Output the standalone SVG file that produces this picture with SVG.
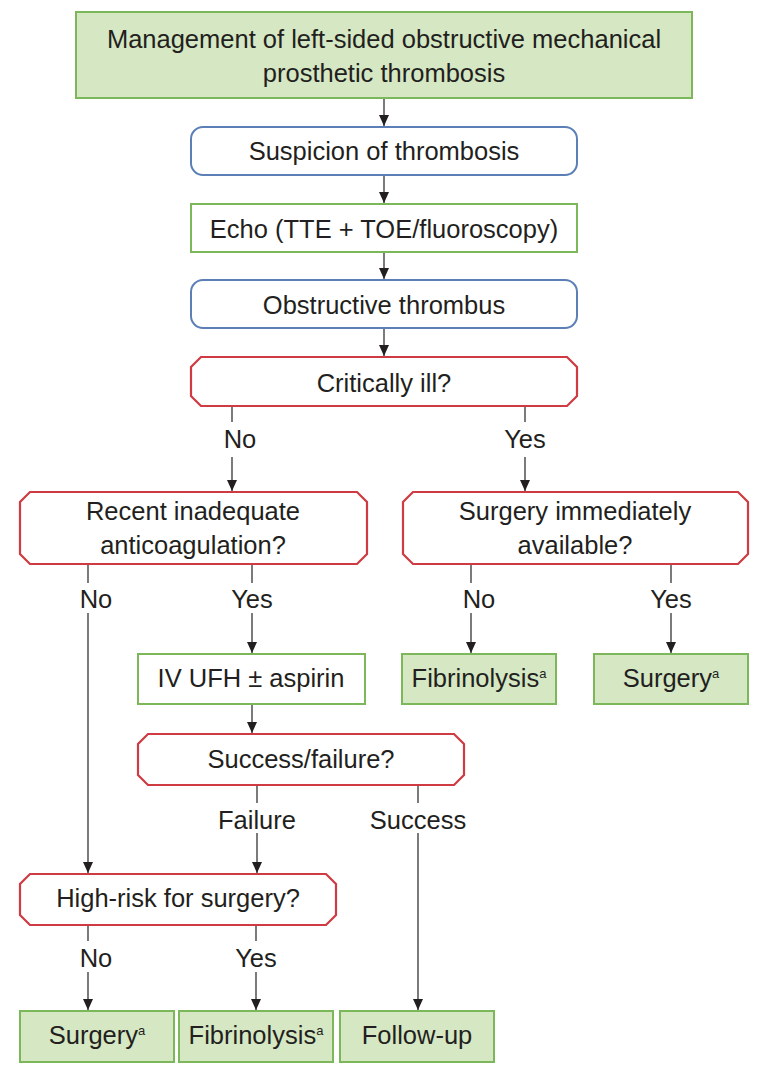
<svg xmlns="http://www.w3.org/2000/svg" width="768" height="1075" viewBox="0 0 768 1075">
<defs>
<marker id="ah" markerWidth="11" markerHeight="10" refX="11" refY="5" orient="auto" markerUnits="userSpaceOnUse" viewBox="0 0 11 10">
<path d="M0,0 L11,5 L0,10 Z" fill="#231f20"/>
</marker>
<style>
text{font-family:"Liberation Sans",Arial,sans-serif;font-size:25.5px;fill:#231f20;text-anchor:middle}
.sup{font-size:13px}
.gf{fill:#d5e7c3;stroke:#7cb85a;stroke-width:2}
.gw{fill:#ffffff;stroke:#7cb85a;stroke-width:2}
.bl{fill:#ffffff;stroke:#5b7fb6;stroke-width:2}
.rd{fill:#ffffff;stroke:#cf3a43;stroke-width:2.2}
.ln{stroke:#333;stroke-width:1.3;fill:none}
.ar{stroke:#333;stroke-width:1.3;fill:none;marker-end:url(#ah)}
</style>
</defs>
<rect width="768" height="1075" fill="#ffffff"/>

<g id="connectors">
<line class="ar" x1="384" y1="98" x2="384" y2="126"/>
<line class="ar" x1="384" y1="175" x2="384" y2="203"/>
<line class="ar" x1="384" y1="252" x2="384" y2="279"/>
<line class="ar" x1="384" y1="328" x2="384" y2="356"/>
<line class="ln" x1="232" y1="406" x2="232" y2="422"/>
<line class="ar" x1="232" y1="457" x2="232" y2="491"/>
<line class="ln" x1="525" y1="406" x2="525" y2="422"/>
<line class="ar" x1="525" y1="457" x2="525" y2="491"/>
<line class="ln" x1="88" y1="564" x2="88" y2="583"/>
<line class="ar" x1="88" y1="613" x2="88" y2="873"/>
<line class="ln" x1="252" y1="564" x2="252" y2="583"/>
<line class="ar" x1="252" y1="613" x2="252" y2="653"/>
<line class="ln" x1="471" y1="564" x2="471" y2="583"/>
<line class="ar" x1="471" y1="613" x2="471" y2="653"/>
<line class="ln" x1="671" y1="564" x2="671" y2="583"/>
<line class="ar" x1="671" y1="613" x2="671" y2="653"/>
<line class="ar" x1="252" y1="704" x2="252" y2="733"/>
<line class="ln" x1="257" y1="785" x2="257" y2="803"/>
<line class="ar" x1="257" y1="833" x2="257" y2="873"/>
<line class="ln" x1="418" y1="785" x2="418" y2="803"/>
<line class="ar" x1="418" y1="833" x2="418" y2="1010"/>
<line class="ln" x1="88" y1="925" x2="88" y2="941"/>
<line class="ar" x1="88" y1="972" x2="88" y2="1010"/>
<line class="ln" x1="256" y1="925" x2="256" y2="941"/>
<line class="ar" x1="256" y1="972" x2="256" y2="1010"/>
<text x="240" y="448">No</text>
<text x="525" y="448">Yes</text>
<text x="96" y="608">No</text>
<text x="252" y="608">Yes</text>
<text x="479" y="608">No</text>
<text x="671" y="608">Yes</text>
<text x="257" y="829">Failure</text>
<text x="418" y="829">Success</text>
<text x="96" y="967">No</text>
<text x="256" y="967">Yes</text>
</g>

<g id="title">
<rect class="gf" x="76" y="12" width="616" height="86"/>
<text x="384" y="48">Management of left-sided obstructive mechanical</text>
<text x="384" y="82">prosthetic thrombosis</text>
</g>

<g id="suspicion">
<rect class="bl" x="191" y="127" width="386" height="48" rx="12"/>
<text x="384" y="160">Suspicion of thrombosis</text>
</g>

<g id="echo">
<rect class="gw" x="191" y="204" width="386" height="48"/>
<text x="384" y="238">Echo (TTE + TOE/fluoroscopy)</text>
</g>

<g id="obstructive">
<rect class="bl" x="191" y="280" width="386" height="48" rx="12"/>
<text x="384" y="314">Obstructive thrombus</text>
</g>

<g id="critically">
<path class="rd" d="M201,357 H567 L577,367 V396 L567,406 H201 L191,396 V367 Z"/>
<text x="384" y="392">Critically ill?</text>
</g>

<g id="recent">
<path class="rd" d="M30,492 H357 L367,502 V554 L357,564 H30 L20,554 V502 Z"/>
<text x="193" y="520">Recent inadequate</text>
<text x="193" y="554">anticoagulation?</text>
</g>

<g id="surgery-available">
<path class="rd" d="M413,492 H738 L748,502 V554 L738,564 H413 L403,554 V502 Z"/>
<text x="575" y="520">Surgery immediately</text>
<text x="575" y="554">available?</text>
</g>

<g id="ivufh">
<rect class="gw" x="138" y="654" width="227" height="50"/>
<text x="251" y="687">IV UFH ± aspirin</text>
</g>

<g id="fibrinolysis-right">
<rect class="gf" x="402" y="654" width="154" height="50"/>
<text x="479" y="687">Fibrinolysis<tspan class="sup" dy="-9">a</tspan></text>
</g>

<g id="surgery-right">
<rect class="gf" x="594" y="654" width="154" height="50"/>
<text x="671" y="687">Surgery<tspan class="sup" dy="-9">a</tspan></text>
</g>

<g id="success-failure">
<path class="rd" d="M148,734 H454 L464,744 V775 L454,785 H148 L138,775 V744 Z"/>
<text x="301" y="768">Success/failure?</text>
</g>

<g id="high-risk">
<path class="rd" d="M30,874 H326 L336,884 V915 L326,925 H30 L20,915 V884 Z"/>
<text x="178" y="907">High-risk for surgery?</text>
</g>

<g id="surgery-bottom">
<rect class="gf" x="20" y="1011" width="154" height="51"/>
<text x="97" y="1044">Surgery<tspan class="sup" dy="-9">a</tspan></text>
</g>

<g id="fibrinolysis-bottom">
<rect class="gf" x="179" y="1011" width="154" height="51"/>
<text x="256" y="1044">Fibrinolysis<tspan class="sup" dy="-9">a</tspan></text>
</g>

<g id="followup">
<rect class="gf" x="340" y="1011" width="154" height="51"/>
<text x="417" y="1044">Follow-up</text>
</g>
</svg>
